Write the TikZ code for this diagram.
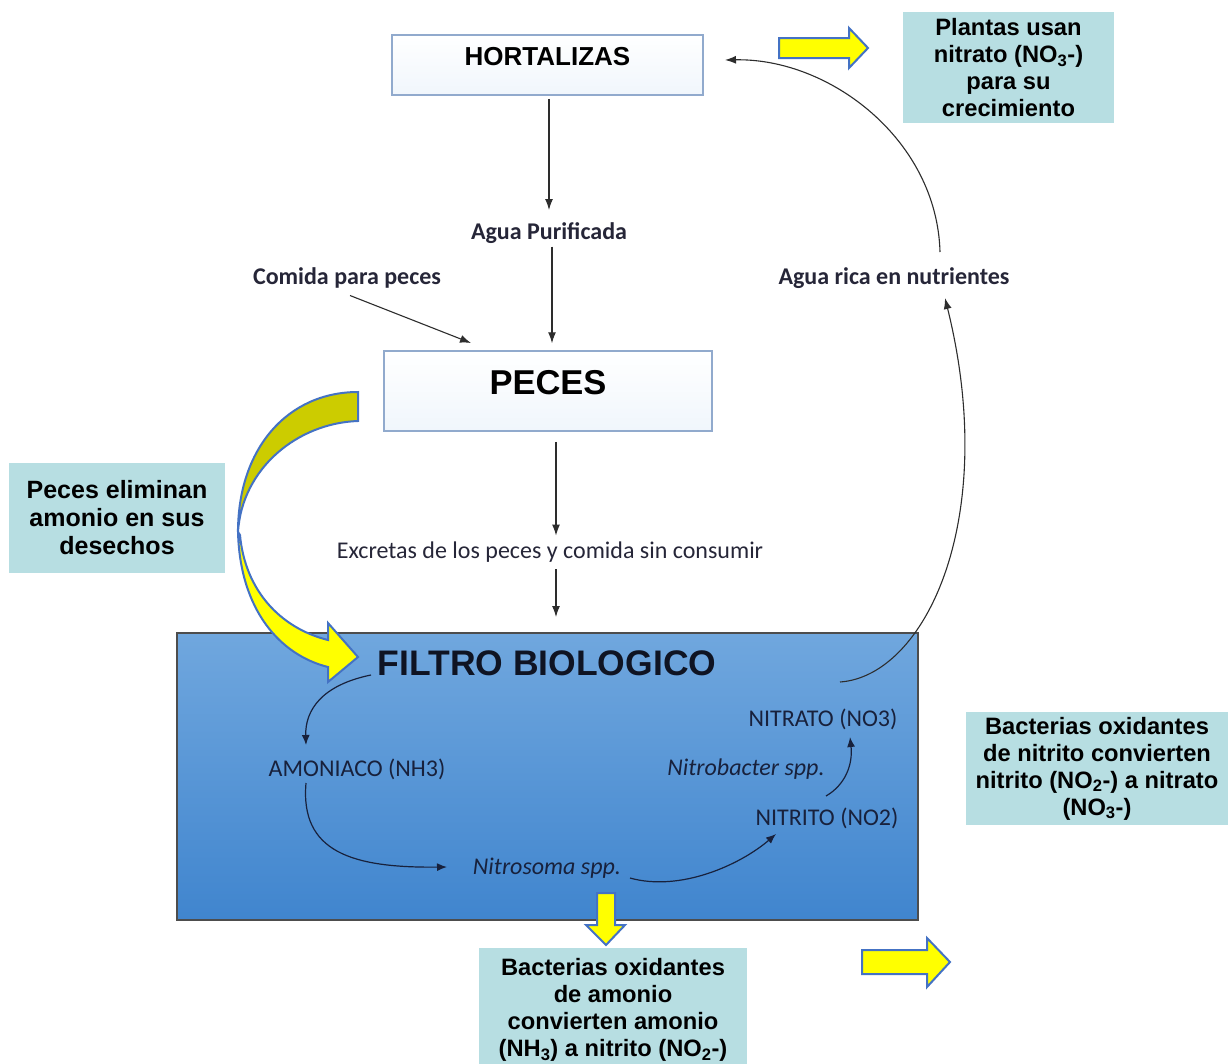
\documentclass[tikz,border=0pt]{standalone}
\usepackage{fontspec}
\setmainfont{Liberation Sans}
\newfontfamily\calfont{Carlito}
\usetikzlibrary{arrows.meta,calc}
\definecolor{tealbox}{RGB}{183,222,226}
\definecolor{filtTop}{RGB}{112,167,222}
\definecolor{filtBot}{RGB}{64,133,206}
\definecolor{boxline}{RGB}{145,170,205}
\definecolor{arrblue}{RGB}{68,114,196}
\definecolor{yel}{RGB}{255,255,0}
\definecolor{olive}{RGB}{204,204,0}
\definecolor{navy}{RGB}{24,33,60}
\definecolor{lblcol}{RGB}{38,38,56}
\definecolor{arrgray}{RGB}{45,45,45}
\definecolor{boxbot}{RGB}{240,246,252}
\definecolor{filtline}{RGB}{77,77,77}
\definecolor{filttext}{RGB}{15,20,35}
\begin{document}
\begin{tikzpicture}[x=1pt,y=-1pt,
  wbox/.style={draw=boxline, line width=1.5pt, top color=white, bottom color=boxbot, inner sep=0pt},
  bigt/.style={inner sep=0pt, text=black, font=\bfseries\fontsize{#1}{#1}\selectfont},
  tbox/.style={fill=tealbox, align=center, inner sep=0pt, text=black, font=\bfseries\fontsize{23.7}{27}\selectfont},
  lbl/.style={inner sep=1pt, text=lblcol, font=\calfont\bfseries\fontsize{24}{28}\selectfont},
  lblr/.style={inner sep=1pt, text=lblcol, font=\calfont\fontsize{24}{28}\selectfont},
  flbl/.style={inner sep=1pt, text=navy, font=\calfont\fontsize{24}{28}\selectfont},
  arr/.style={draw=arrgray, line width=1.1pt, -{Latex[length=11pt,width=8pt]}},
  farr/.style={draw=navy, line width=1.2pt, -{Latex[length=10pt,width=8pt]}},
  yarrow/.style={fill=yel, draw=arrblue, line width=2pt, line join=miter}
]
\useasboundingbox (0,0) rectangle (1228,1063);
\fill[white] (0,0) rectangle (1228,1063);

% main boxes
\node[wbox, minimum width=311pt, minimum height=60pt] (hort) at (547.5,65) {};
\node[bigt=26] (horttxt) at (547.5,57) {HORTALIZAS};
\node[wbox, minimum width=328pt, minimum height=80pt] (peces) at (548,391) {};
\node[bigt=34.5] (pecestxt) at (548,383) {PECES};
\node[draw=filtline, line width=2pt, top color=filtTop, bottom color=filtBot,
      minimum width=741pt, minimum height=287pt, inner sep=0pt] (filt) at (547.5,776.5) {};
\node[bigt=35.5, text=filttext] (filttxt) at (547,663) {FILTRO BIOLOGICO};

% labels
\node[lbl] (agua) at (549,233) {Agua Purificada};
\node[lbl] (comida) at (347,278) {Comida para peces};
\node[lbl] (rica) at (894,278) {Agua rica en nutrientes};
\node[lblr] (exc) at (550,552) {Excretas de los peces y comida sin consumir};

% teal boxes
\node[tbox, minimum width=211pt, minimum height=111pt] (plantas) at (1008.5,67.5)
  {Plantas usan\\nitrato (NO\textsubscript{3}-)\\para su\\crecimiento};
\node[tbox, minimum width=216pt, minimum height=110pt, font=\bfseries\fontsize{25}{28}\selectfont] (elim) at (117,518)
  {Peces eliminan\\amonio en sus\\desechos};
\node[tbox, minimum width=262pt, minimum height=113pt] (nitbac) at (1097,768.5)
  {Bacterias oxidantes\\de nitrito convierten\\nitrito (NO\textsubscript{2}-) a nitrato\\(NO\textsubscript{3}-)};
\node[tbox, minimum width=268pt, minimum height=124pt, anchor=north] (ambac) at (613,948)
  {Bacterias oxidantes\\de amonio\\convierten amonio\\(NH\textsubscript{3}) a nitrito (NO\textsubscript{2}-)};

% filter inner labels
\node[flbl] (nitrato) at (823,719) {NITRATO (NO3)};
\node[flbl] (amon) at (357,769) {AMONIACO (NH3)};
\node[flbl, font=\calfont\itshape\fontsize{24}{28}\selectfont] (nbac) at (746,769) {Nitrobacter spp.};
\node[flbl] (nitrito) at (827,818) {NITRITO (NO2)};
\node[flbl, font=\calfont\itshape\fontsize{24}{28}\selectfont] (nsom) at (547,868) {Nitrosoma spp.};

% coordinates for connector ends
\coordinate (pin) at (471,343);
\coordinate (hin) at (725,60);
\coordinate (rtop) at (940,252);
\coordinate (rbot) at (945,298);
\coordinate (nst) at (840,682);
\coordinate (f1s) at (371,675);
\coordinate (f1e) at (306,745);
\coordinate (f2s) at (306,783);
\coordinate (f2e) at (447,867);
\coordinate (f3s) at (630,878);
\coordinate (f3e) at (776,834);
\coordinate (f4s) at (826,796);
\coordinate (f4e) at (850,737);
\coordinate (aguatop) at (549,210);

% straight connectors
\draw[arr] ([xshift=1.5pt,yshift=-3pt]hort.south) -- (aguatop);
\draw[arr] ([xshift=3pt,yshift=-2pt]agua.south) -- ([xshift=3pt,yshift=7pt]agua.south |- peces.north);
\draw[arr] ([xshift=3pt,yshift=-6pt]comida.south) -- (pin);
\draw[arr] ([xshift=8pt,yshift=-10pt]peces.south) -- ([xshift=6pt,yshift=5pt]exc.north);
\draw[arr] ([xshift=6pt,yshift=-6pt]exc.south) -- ([xshift=6pt,yshift=15pt]exc.south |- filt.north);

% curved connectors outside
\draw[arr] (rtop) .. controls (937,140) and (830,58) .. (hin);
\draw[arr] (nst) .. controls (925,676) and (1000,520) .. (rbot);

% curved connectors inside filter
\draw[farr] (f1s) .. controls (322,685) and (305,710) .. (f1e);
\draw[farr] (f2s) .. controls (300,852) and (352,868) .. (f2e);
\draw[farr] (f3s) .. controls (680,892) and (740,865) .. (f3e);
\draw[farr] (f4s) .. controls (845,785) and (853,765) .. (f4e);

% yellow block arrows
\draw[yarrow] (779,38) -- (849,38) -- (849,28) -- (868,48) -- (849,68) -- (849,58) -- (779,58) -- cycle;
\draw[yarrow] (862,950) -- (927,950) -- (927,938) -- (950,962) -- (927,987) -- (927,974) -- (862,974) -- cycle;
\draw[yarrow] (597,893) -- (615,893) -- (615,925) -- (625,925) -- (606,945) -- (586,925) -- (597,925) -- cycle;

% big curved arrow
\draw[yarrow, fill=olive] (358,392) .. controls (288,392) and (238,448) .. (238,532)
   .. controls (242,468) and (298,423) .. (358,421) -- cycle;
\draw[yarrow] (238,532) .. controls (240,610) and (280,655) .. (328,667) -- (328,682) -- (358,657)
   -- (328,623) -- (328,640) .. controls (280,628) and (245,590) .. (240,535) -- cycle;
\end{tikzpicture}
\end{document}
